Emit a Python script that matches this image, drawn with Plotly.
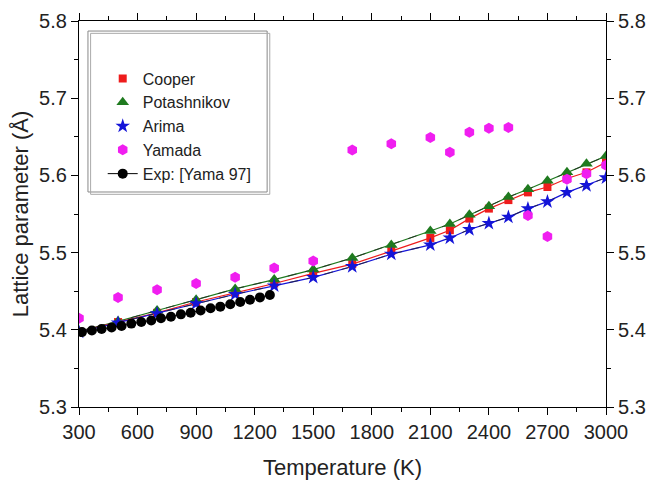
import plotly.graph_objects as go

# Temperatures (K)
T_model = [300, 500, 700, 900, 1100, 1300, 1500, 1700, 1900, 2100, 2200, 2300, 2400, 2500, 2600, 2700, 2800, 2900, 3000]
cooper = [5.398, 5.410, 5.422, 5.436, 5.448, 5.460, 5.473, 5.485, 5.502, 5.519, 5.529, 5.544, 5.557, 5.568, 5.578, 5.585, 5.596, 5.604, 5.617]
potashnikov = [5.398, 5.411, 5.425, 5.439, 5.453, 5.465, 5.478, 5.493, 5.510, 5.528, 5.537, 5.549, 5.560, 5.572, 5.582, 5.593, 5.604, 5.615, 5.625]
arima = [5.397, 5.409, 5.421, 5.434, 5.446, 5.457, 5.468, 5.482, 5.498, 5.510, 5.519, 5.530, 5.538, 5.546, 5.557, 5.566, 5.578, 5.587, 5.597]

T_yamada = [300, 500, 700, 900, 1100, 1300, 1500, 1700, 1900, 2100, 2200, 2300, 2400, 2500, 2600, 2700, 2800, 2900, 3000]
yamada = [5.415, 5.442, 5.452, 5.460, 5.468, 5.480, 5.489, 5.633, 5.641, 5.649, 5.630, 5.656, 5.661, 5.662, 5.548, 5.521, 5.595, 5.602, 5.613]

T_exp = [315, 366, 416, 467, 518, 568, 619, 670, 720, 771, 822, 872, 923, 974, 1024, 1075, 1126, 1176, 1227, 1278]
exp_vals = [5.397, 5.399, 5.401, 5.403, 5.405, 5.408, 5.410, 5.412, 5.415, 5.417, 5.420, 5.422, 5.425, 5.428, 5.430, 5.433, 5.436, 5.439, 5.442, 5.445]

x_ticks = [300, 600, 900, 1200, 1500, 1800, 2100, 2400, 2700, 3000]
y_ticks = [5.3, 5.4, 5.5, 5.6, 5.7, 5.8]

RED = "#EE1C1C"
GREEN = "#1F7A1F"
BLUE = "#1414D8"
MAG = "#F01EF0"
FONT = "Liberation Sans, Arial, sans-serif"

fig = go.Figure()

# connecting lines (no legend)
fig.add_trace(go.Scatter(x=T_model, y=potashnikov, mode="lines", line=dict(color=GREEN, width=1.2), showlegend=False))
fig.add_trace(go.Scatter(x=T_model, y=cooper, mode="lines", line=dict(color=RED, width=1.2), showlegend=False))
fig.add_trace(go.Scatter(x=T_model, y=arima, mode="lines", line=dict(color=BLUE, width=1.2), showlegend=False))
fig.add_trace(go.Scatter(x=T_model, y=potashnikov, mode="lines", line=dict(color="#222", width=0.8, dash="dash"), showlegend=False))
fig.add_trace(go.Scatter(x=T_model, y=arima, mode="lines", line=dict(color="#222", width=0.8, dash="dash"), showlegend=False))

fig.add_trace(go.Scatter(x=T_model, y=cooper, mode="markers", name="Cooper",
                         marker=dict(symbol="square", color=RED, size=8)))
fig.add_trace(go.Scatter(x=T_model, y=potashnikov, mode="markers", name="Potashnikov",
                         marker=dict(symbol="triangle-up", color=GREEN, size=11)))
fig.add_trace(go.Scatter(x=T_model, y=arima, mode="markers", name="Arima",
                         marker=dict(symbol="star", color=BLUE, size=11)))
fig.add_trace(go.Scatter(x=T_yamada, y=yamada, mode="markers", name="Yamada",
                         marker=dict(symbol="hexagon", color=MAG, size=11)))
fig.add_trace(go.Scatter(x=T_exp, y=exp_vals, mode="lines+markers", name="Exp: [Yama 97]",
                         line=dict(color="black", width=1),
                         marker=dict(symbol="circle", color="black", size=10)))
# invisible trace for right axis
fig.add_trace(go.Scatter(x=[x_ticks[0]], y=[y_ticks[0]], yaxis="y2", mode="markers",
                         marker=dict(opacity=0), showlegend=False, hoverinfo="skip"))

axis_common = dict(showline=True, linecolor="black", linewidth=1.2, showgrid=False, zeroline=False,
                   automargin=False, ticklabeloverflow="allow",
                   ticks="outside", ticklen=7, tickwidth=1.2, tickcolor="black",
                   tickfont=dict(family=FONT, size=20, color="#222"))

fig.update_layout(
    width=646, height=472,
    margin=dict(l=71, r=48, t=13, b=73),
    paper_bgcolor="white", plot_bgcolor="white",
    xaxis=dict(range=[300, 3000], tickvals=x_ticks, mirror="ticks",
               minor=dict(dtick=150, tick0=300, ticks="outside", ticklen=4, tickcolor="black", tickwidth=1),
               title=dict(text="Temperature (K)", font=dict(family=FONT, size=22, color="#222"), standoff=17),
               **axis_common),
    yaxis=dict(range=[5.3, 5.8], tickvals=y_ticks, tickformat=".1f", mirror=True,
               minor=dict(dtick=0.05, tick0=5.3, ticks="outside", ticklen=4, tickcolor="black", tickwidth=1),
               title=dict(text="Lattice parameter (Å)", font=dict(family=FONT, size=22, color="#222"), standoff=6),
               **axis_common),
    yaxis2=dict(range=[5.3, 5.8], tickvals=y_ticks, tickformat=".1f", overlaying="y", side="right",
                minor=dict(dtick=0.05, tick0=5.3, ticks="outside", ticklen=4, tickcolor="black", tickwidth=1),
                **axis_common),
    legend=dict(x=0.045, y=0.895, xanchor="left", yanchor="top",
                bgcolor="rgba(0,0,0,0)", borderwidth=0,
                font=dict(family=FONT, size=16, color="#222"),
                tracegroupgap=0),
    shapes=[
        dict(type="rect", xref="paper", yref="paper", x0=0.022, x1=0.362, y0=0.551, y1=0.968,
             line=dict(color="#aaaaaa", width=1), fillcolor="rgba(0,0,0,0)"),
        dict(type="rect", xref="paper", yref="paper", x0=0.017, x1=0.357, y0=0.557, y1=0.974,
             line=dict(color="#888888", width=1), fillcolor="white", layer="below"),
    ],
)

fig.write_html("out.html")
